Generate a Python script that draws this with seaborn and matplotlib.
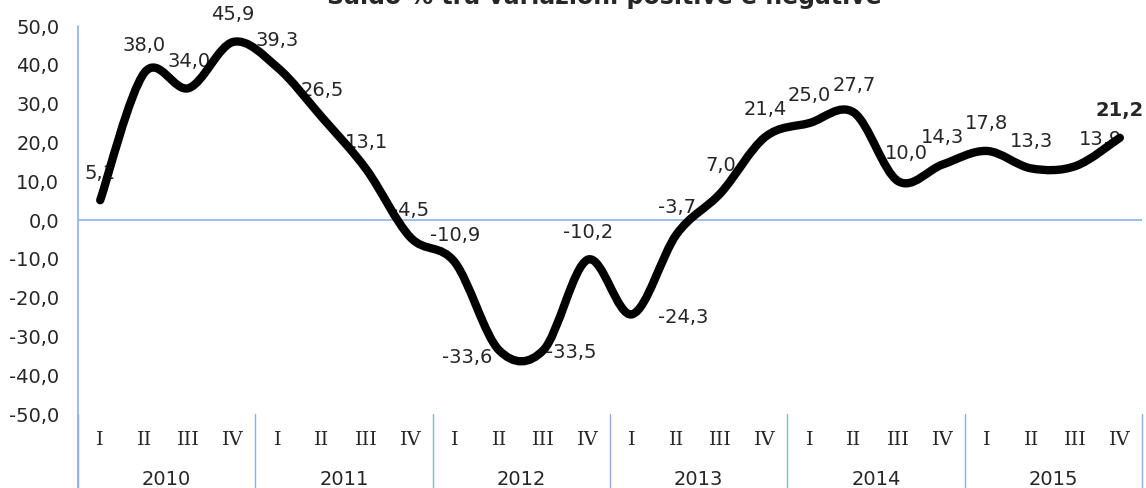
import numpy as np
import seaborn as sns
import matplotlib.pyplot as plt
from matplotlib.path import Path
from matplotlib.patches import PathPatch
from matplotlib.transforms import blended_transform_factory

# data
years = ['2010', '2011', '2012', '2013', '2014', '2015']
quarters = ['I', 'II', 'III', 'IV']
saldo = [5.1, 38.0, 34.0, 45.9, 39.3, 26.5, 13.1, -4.5,
         -10.9, -33.6, -33.5, -10.2, -24.3, -3.7, 7.0, 21.4,
         25.0, 27.7, 10.0, 14.3, 17.8, 13.3, 13.9, 21.2]
title = 'Saldo % tra variazioni positive e negative'

# label offsets in points (default: above the point)
label_offsets = {9: (-23, -5), 10: (20, -1.5), 12: (37, -2), 18: (6, 20), 22: (18, 19)}

blue = '#8EB0E3'

sns.set_style('white')
plt.rcParams['font.family'] = ['DejaVu Sans']

fig = plt.figure(figsize=(11.46, 4.88), dpi=100)
ax = fig.add_axes([0.0681, 0.1516, 0.9965 - 0.0681, 0.9467 - 0.1516])

n = len(saldo)
x = np.arange(n) + 0.5
y = np.array(saldo)


def smooth_path(xs, ys):
    # Excel-like smoothed line: cubic bezier with catmull-rom control points
    pts = np.column_stack([xs, ys])
    verts = [pts[0]]
    codes = [Path.MOVETO]
    for i in range(len(pts) - 1):
        p0 = pts[i - 1] if i > 0 else pts[i]
        p1 = pts[i]
        p2 = pts[i + 1]
        p3 = pts[i + 2] if i + 2 < len(pts) else pts[i + 1]
        c1 = p1 + (p2 - p0) / 6.0
        c2 = p2 - (p3 - p1) / 6.0
        verts += [c1, c2, p2]
        codes += [Path.CURVE4] * 3
    return Path(verts, codes)


ax.add_patch(PathPatch(smooth_path(x, y), facecolor='none', edgecolor='black',
                       lw=6, capstyle='round', joinstyle='round', zorder=4))

# zero line
ax.axhline(0, color=blue, lw=1.2, zorder=2)

# data labels
for i, v in enumerate(saldo):
    dx, dy = label_offsets.get(i, (0, 19.5))
    txt = f'{v:.1f}'.replace('.', ',')
    ax.annotate(txt, (x[i], v), xytext=(dx, dy), textcoords='offset points',
                ha='center', va='center', fontsize=14, zorder=3,
                fontweight='bold' if i == n - 1 else 'normal')

ax.set_xlim(0, n)
ax.set_ylim(-50, 50)
ax.set_yticks(np.arange(-50, 51, 10))
ax.set_yticklabels([f'{t:.1f}'.replace('.', ',') for t in np.arange(-50, 51, 10)])
ax.tick_params(axis='y', length=4.5, width=1, color=blue, pad=9, labelsize=14)
ax.set_xticks([])
for s in ax.spines.values():
    s.set_visible(False)

# category axis (quarters + years)
trans = blended_transform_factory(ax.transData, ax.transAxes)
for i in range(n):
    ax.text(x[i], -0.068, quarters[i % 4], transform=trans, ha='center', va='center',
            fontsize=14, family='DejaVu Serif')
for k, yr in enumerate(years):
    ax.text(4 * k + 2, -0.1675, yr, transform=trans, ha='center', va='center', fontsize=14)
for k in range(len(years) + 1):
    ax.plot([4 * k, 4 * k], [-0.19, 0], transform=trans, color=blue, lw=1, clip_on=False)
ax.plot([0, 0], [-0.19, 1], transform=trans, color=blue, lw=1.2, clip_on=False)

fig.text(0.527, 0.992, title, ha='center', va='baseline', fontsize=17, fontweight='bold')

fig.savefig('out.png', dpi=100)
